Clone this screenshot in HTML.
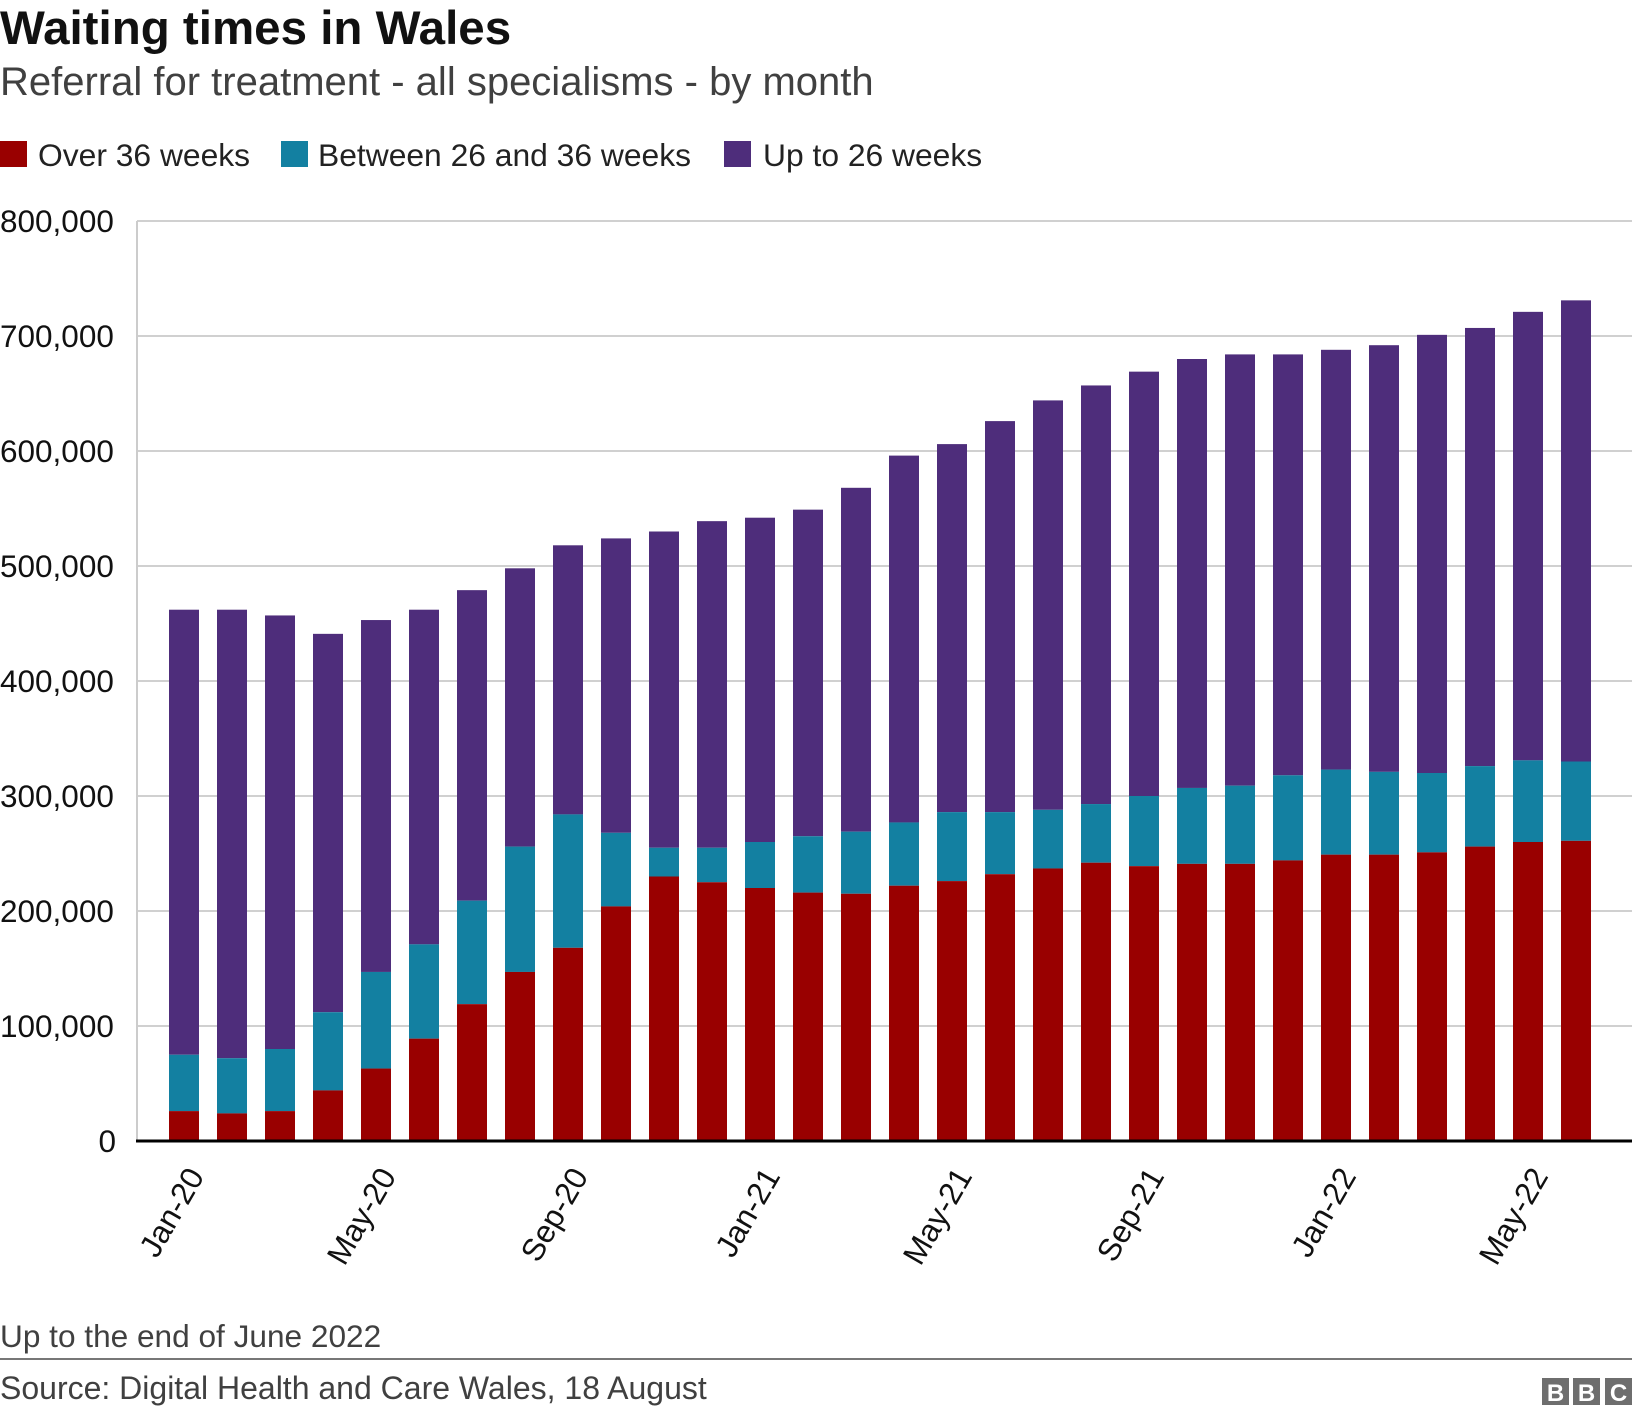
<!DOCTYPE html>
<html><head><meta charset="utf-8"><style>
body{margin:0;width:1632px;height:1414px;background:#fff;font-family:"Liberation Sans",Arial,sans-serif;overflow:hidden}
</style></head><body>
<svg width="1632" height="1414" xmlns="http://www.w3.org/2000/svg" font-family="Liberation Sans, Arial, sans-serif">
<text x="0" y="44" font-size="47.5" font-weight="bold" fill="#111">Waiting times in Wales</text>
<text x="0" y="95" font-size="40" fill="#404040">Referral for treatment - all specialisms - by month</text>
<g>
<rect x="0" y="141" width="27" height="26" fill="#990000"/>
<text x="38" y="166" font-size="31.8" fill="#222">Over 36 weeks</text>
<rect x="281" y="141" width="27" height="26" fill="#1380a1"/>
<text x="318" y="166" font-size="31.8" fill="#222">Between 26 and 36 weeks</text>
<rect x="724" y="141" width="27" height="26" fill="#4e2d7b"/>
<text x="763" y="166" font-size="31.8" fill="#222">Up to 26 weeks</text>
</g>
<g id="grid"></g>
<line x1="137" y1="221" x2="137" y2="1141" stroke="#ccc" stroke-width="2"/>
<g id="bars"></g>
<line x1="136" y1="1141" x2="1632" y2="1141" stroke="#000" stroke-width="3"/>
<g id="xlabels"></g>
<text x="0" y="1347" font-size="31.6" fill="#404040">Up to the end of June 2022</text>
<line x1="0" y1="1359" x2="1632" y2="1359" stroke="#777" stroke-width="2"/>
<text x="0" y="1399" font-size="32" fill="#404040">Source: Digital Health and Care Wales, 18 August</text>
<g>
<rect x="1542" y="1378" width="27" height="27" fill="#6e6e6e"/><text x="1555.5" y="1401" font-size="24" font-weight="bold" fill="#fff" text-anchor="middle">B</text>
<rect x="1573" y="1378" width="27" height="27" fill="#6e6e6e"/><text x="1586.5" y="1401" font-size="24" font-weight="bold" fill="#fff" text-anchor="middle">B</text>
<rect x="1605" y="1378" width="27" height="27" fill="#6e6e6e"/><text x="1618.5" y="1401" font-size="24" font-weight="bold" fill="#fff" text-anchor="middle">C</text>
</g>
</svg>
<script>
const months = ["Jan-20","Feb-20","Mar-20","Apr-20","May-20","Jun-20","Jul-20","Aug-20","Sep-20","Oct-20","Nov-20","Dec-20","Jan-21","Feb-21","Mar-21","Apr-21","May-21","Jun-21","Jul-21","Aug-21","Sep-21","Oct-21","Nov-21","Dec-21","Jan-22","Feb-22","Mar-22","Apr-22","May-22","Jun-22"];
const over36 = [26000,24000,26000,44000,63000,89000,119000,147000,168000,204000,230000,225000,220000,216000,215000,222000,226000,232000,237000,242000,239000,241000,241000,244000,249000,249000,251000,256000,260000,261000];
const upTo36 = [75000,72000,80000,112000,147000,171000,209000,256000,284000,268000,255000,255000,260000,265000,269000,277000,286000,286000,288000,293000,300000,307000,309000,318000,323000,321000,320000,326000,331000,330000];
const total = [462000,462000,457000,441000,453000,462000,479000,498000,518000,524000,530000,539000,542000,549000,568000,596000,606000,626000,644000,657000,669000,680000,684000,684000,688000,692000,701000,707000,721000,731000];
const yTicks = [0,100000,200000,300000,400000,500000,600000,700000,800000];
const xLabelEvery = 4;

const NS = "http://www.w3.org/2000/svg";
const y = v => 1141 - v * 115 / 100000;
const xc = i => 184 + i * 48;
const BW = 30;
function mk(tag, attrs, parent){const e=document.createElementNS(NS,tag);for(const k in attrs)e.setAttribute(k,attrs[k]);parent.appendChild(e);return e;}
const grid=document.getElementById('grid');
yTicks.forEach(t=>{
  if(t>0){const l=mk('line',{x1:137,x2:1632,y1:y(t),y2:y(t),stroke:'#d0d0d0','stroke-width':2},grid);
  
  }
  const tx=mk('text',{x:t===0?116:0,y:y(t)+11,'font-size':31.5,fill:'#111','text-anchor':t===0?'end':'start'},grid);
  tx.textContent=t.toLocaleString('en-GB');
  
  
});
const bars=document.getElementById('bars');
months.forEach((m,i)=>{
  const x=xc(i)-BW/2;
  const r1=mk('rect',{x:x,y:y(total[i]),width:BW,height:y(upTo36[i])-y(total[i]),fill:'#4e2d7b'},bars);
  
  
  const r2=mk('rect',{x:x,y:y(upTo36[i]),width:BW,height:y(over36[i])-y(upTo36[i]),fill:'#1380a1'},bars);
  
  
  const r3=mk('rect',{x:x,y:y(over36[i]),width:BW,height:y(0)-y(over36[i]),fill:'#990000'},bars);
  
  
});
const xl=document.getElementById('xlabels');
months.forEach((m,i)=>{
  if(i%xLabelEvery!==0)return;
  const ax=xc(i)+21, ay=1176;
  const t=mk('text',{x:ax,y:ay,'font-size':31.5,fill:'#111','text-anchor':'end',transform:`rotate(-60 ${ax} ${ay})`},xl);
  t.textContent=m;
  
  
});
</script>
</body></html>
